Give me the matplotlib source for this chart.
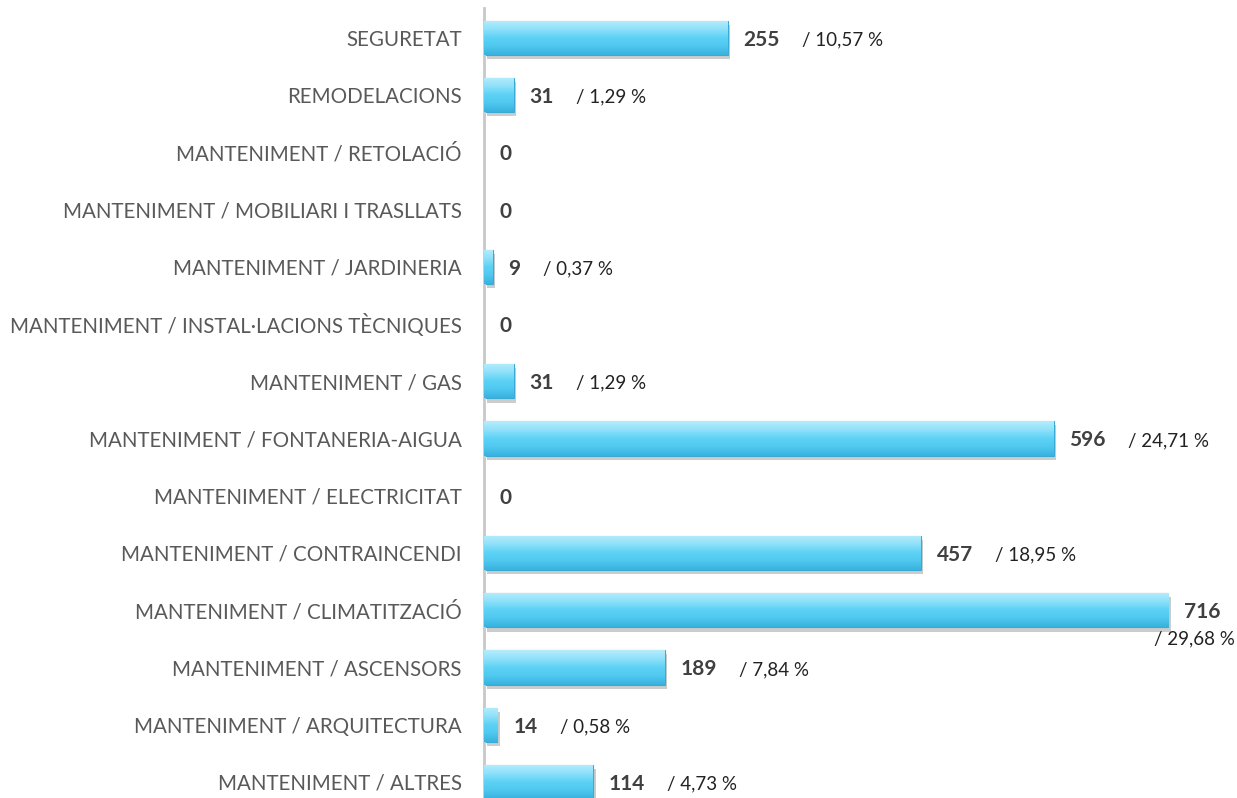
import matplotlib.pyplot as plt
import matplotlib.patheffects as pe
from matplotlib.colors import LinearSegmentedColormap
import numpy as np

# Data (bottom to top)
categories = [
    "MANTENIMENT / ALTRES",
    "MANTENIMENT / ARQUITECTURA",
    "MANTENIMENT / ASCENSORS",
    "MANTENIMENT / CLIMATITZACIÓ",
    "MANTENIMENT / CONTRAINCENDI",
    "MANTENIMENT / ELECTRICITAT",
    "MANTENIMENT / FONTANERIA-AIGUA",
    "MANTENIMENT / GAS",
    "MANTENIMENT / INSTAL·LACIONS TÈCNIQUES",
    "MANTENIMENT / JARDINERIA",
    "MANTENIMENT / MOBILIARI I TRASLLATS",
    "MANTENIMENT / RETOLACIÓ",
    "REMODELACIONS",
    "SEGURETAT",
]
counts = [114, 14, 189, 716, 457, 0, 596, 31, 0, 9, 0, 0, 31, 255]
percents = ["4,73", "0,58", "7,84", "29,68", "18,95", None, "24,71", "1,29", None,
            "0,37", None, None, "1,29", "10,57"]

plt.rcParams["font.family"] = ["Lato", "DejaVu Sans"]

fig = plt.figure(figsize=(12.37, 7.98), dpi=100)
ax = fig.add_axes([484 / 1237, 0, 1 - 484 / 1237, 790 / 798])

y = np.arange(len(categories))
bars = ax.barh(y, counts, height=0.6, color="#55cdf2", edgecolor="#3aa9d4", linewidth=0.8,
               path_effects=[pe.SimplePatchShadow(offset=(2, -3), shadow_rgbFace="#808080", alpha=0.4),
                             pe.Normal()], zorder=2)

# smooth vertical gradient on each bar
grad = np.linspace(0, 1, 64).reshape(-1, 1)
cmap = LinearSegmentedColormap.from_list("bar", ["#38b2de", "#4fc8ef", "#5dd2f5", "#8fe1fa", "#b5ecfc"])
for b, v in zip(bars, counts):
    if v == 0:
        continue
    x0, y0 = b.get_x(), b.get_y()
    im = ax.imshow(grad, cmap=cmap, aspect="auto", origin="lower", interpolation="bilinear",
                   extent=(x0, x0 + b.get_width(), y0, y0 + b.get_height()), zorder=3)
    im.set_clip_path(b)

ax.set_xlim(0, 788)
ax.set_ylim(-0.28, 13.52)
ax.set_yticks(y)
ax.set_yticklabels(categories, fontsize=14.8, color="#595959")
ax.tick_params(axis="y", length=0, pad=16)
ax.set_xticks([])
for s in ["top", "right", "bottom"]:
    ax.spines[s].set_visible(False)
ax.spines["left"].set_color("#c8c8c8")
ax.spines["left"].set_linewidth(2)

for yi, v, p in zip(y, counts, percents):
    t = ax.annotate(str(v), xy=(v, yi), xytext=(16, -2), textcoords="offset pixels",
                    va="center", ha="left", fontsize=15, fontweight="bold", color="#404040")
    if p is None:
        continue
    if v > 650:
        ax.annotate(f"/ {p} %", xy=(1, 0), xycoords=t, xytext=(14, -8),
                    textcoords="offset pixels", ha="right", va="top",
                    fontsize=13.5, color="#222222")
    else:
        ax.annotate(f"/ {p} %", xy=(1, 0.5), xycoords=t, xytext=(22, 0),
                    textcoords="offset pixels", ha="left", va="center",
                    fontsize=13.5, color="#222222")

fig.savefig("out.png", dpi=100)
